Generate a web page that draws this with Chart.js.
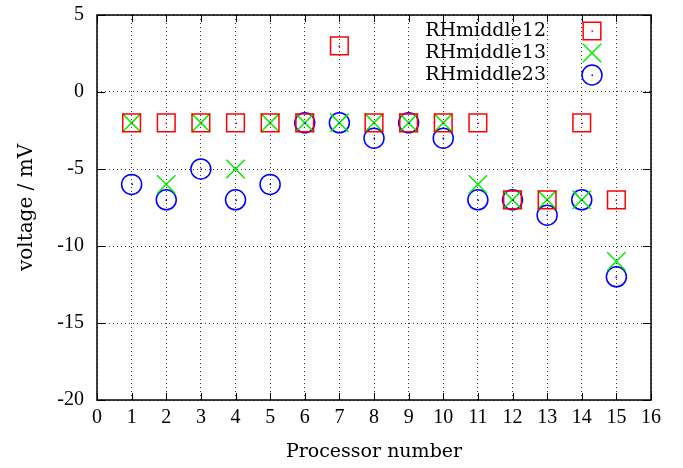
<!DOCTYPE html>
<html lang="en">
<head>
    <meta charset="UTF-8">
    <title>RHmiddle voltages</title>
    <script src="https://cdn.jsdelivr.net/npm/chart.js@4.4.0/dist/chart.umd.min.js"></script>
    <style>
        body { margin: 0; padding: 0; background: #fff; }
        .wrap { width: 683px; height: 468px; }
    </style>
</head>
<body>
    <div class="wrap"><canvas id="chart"></canvas></div>

    <script>
        // Data
        const processors = [1, 2, 3, 4, 5, 6, 7, 8, 9, 10, 11, 12, 13, 14, 15];
        const rh12 = [-2, -2, -2, -2, -2, -2, 3, -2, -2, -2, -2, -7, -7, -2, -7];
        const rh13 = [-2, -6, -2, -5, -2, -2, -2, -2, -2, -2, -6, -7, -7, -7, -11];
        const rh23 = [-6, -7, -5, -7, -6, -2, -2, -3, -2, -3, -7, -7, -8, -7, -12];
        const seriesNames = ['RHmiddle12', 'RHmiddle13', 'RHmiddle23'];
        const xTicks = [0, 1, 2, 3, 4, 5, 6, 7, 8, 9, 10, 11, 12, 13, 14, 15, 16];
        const yTicks = [5, 0, -5, -10, -15, -20];

        const TICK_FONT = 'Liberation Serif';
        const TEXT_FONT = 'DejaVu Serif';

        function points(ys) {
            return processors.map((x, i) => ({ x: x, y: ys[i] }));
        }

        // frame, inner ticks, centre dots and the legend, gnuplot style
        const gnuplotBits = {
            id: 'gnuplotBits',
            afterDatasetsDraw(chart) {
                const ctx = chart.ctx;
                const a = chart.chartArea;
                const xs = chart.scales.x, ys = chart.scales.y;
                ctx.save();
                ctx.strokeStyle = '#000';
                ctx.lineWidth = 1;
                ctx.beginPath();
                xTicks.forEach(v => {
                    const px = Math.round(xs.getPixelForValue(v)) + 0.5;
                    ctx.moveTo(px, a.bottom); ctx.lineTo(px, a.bottom - 7);
                    ctx.moveTo(px, a.top); ctx.lineTo(px, a.top + 7);
                });
                yTicks.forEach(v => {
                    const py = Math.round(ys.getPixelForValue(v)) + 0.5;
                    ctx.moveTo(a.left, py); ctx.lineTo(a.left + 8, py);
                    ctx.moveTo(a.right, py); ctx.lineTo(a.right - 8, py);
                });
                ctx.stroke();
                ctx.lineWidth = 1.5;
                ctx.strokeRect(a.left, a.top, a.right - a.left, a.bottom - a.top);

                // small dots in the middle of the points
                chart.data.datasets.forEach((ds, i) => {
                    if (ds.pointStyle === 'crossRot') return;
                    ctx.fillStyle = ds.borderColor;
                    chart.getDatasetMeta(i).data.forEach(el => {
                        ctx.fillRect(Math.round(el.x) - 0.5, Math.round(el.y) - 0.5, 1.5, 1.5);
                    });
                });

                // legend, text right-aligned with the symbol after it
                ctx.font = '19px "' + TEXT_FONT + '"';
                ctx.textAlign = 'right';
                ctx.textBaseline = 'middle';
                chart.data.datasets.forEach((ds, i) => {
                    const y = a.top + 16 + i * 22;
                    ctx.fillStyle = '#000';
                    ctx.fillText(ds.label, 546, y);
                    ctx.strokeStyle = ds.borderColor;
                    ctx.fillStyle = 'rgba(0,0,0,0)';
                    ctx.lineWidth = ds.borderWidth;
                    Chart.helpers.drawPoint(ctx, {
                        pointStyle: ds.pointStyle,
                        radius: ds.pointRadius,
                        borderWidth: ds.borderWidth
                    }, 592, y);
                    if (ds.pointStyle !== 'crossRot') {
                        ctx.fillStyle = ds.borderColor;
                        ctx.fillRect(591.5, y - 0.5, 1.5, 1.5);
                    }
                });
                ctx.restore();
            }
        };

        new Chart(document.getElementById('chart'), {
            type: 'scatter',
            data: {
                datasets: [
                    {
                        label: seriesNames[0],
                        data: points(rh12),
                        pointStyle: 'rect',
                        pointRadius: 12.5,
                        borderColor: '#ff0000',
                        backgroundColor: 'rgba(0,0,0,0)',
                        borderWidth: 1.5
                    },
                    {
                        label: seriesNames[1],
                        data: points(rh13),
                        pointStyle: 'crossRot',
                        pointRadius: 13,
                        borderColor: '#00ee00',
                        backgroundColor: 'rgba(0,0,0,0)',
                        borderWidth: 1.5
                    },
                    {
                        label: seriesNames[2],
                        data: points(rh23),
                        pointStyle: 'circle',
                        pointRadius: 10,
                        borderColor: '#0000ff',
                        backgroundColor: 'rgba(0,0,0,0)',
                        borderWidth: 1.5
                    }
                ]
            },
            options: {
                responsive: true,
                maintainAspectRatio: false,
                animation: false,
                layout: { padding: { top: 15, right: 32, left: 0, bottom: 0 } },
                plugins: {
                    legend: { display: false },
                    tooltip: { enabled: false }
                },
                scales: {
                    x: {
                        type: 'linear',
                        min: 0,
                        max: 16,
                        afterBuildTicks: s => { s.ticks = xTicks.map(v => ({ value: v })); },
                        afterFit: s => { s.height = 68; s.paddingLeft = 0; s.paddingRight = 0; },
                        ticks: {
                            color: '#000',
                            padding: 6,
                            font: { family: TICK_FONT, size: 20 }
                        },
                        grid: {
                            color: 'rgba(0,0,0,0.8)',
                            drawTicks: false
                        },
                        border: { display: false, dash: [1, 3] },
                        title: {
                            display: true,
                            text: 'Processor number',
                            color: '#000',
                            padding: { top: 0, bottom: 5 },
                            font: { family: TEXT_FONT, size: 19 }
                        }
                    },
                    y: {
                        min: -20,
                        max: 5,
                        afterBuildTicks: s => { s.ticks = yTicks.map(v => ({ value: v })); },
                        afterFit: s => { s.width = 97; s.paddingTop = 0; s.paddingBottom = 0; },
                        ticks: {
                            color: '#000',
                            padding: 13,
                            font: { family: TICK_FONT, size: 20 }
                        },
                        grid: {
                            color: 'rgba(0,0,0,0.8)',
                            drawTicks: false
                        },
                        border: { display: false, dash: [1, 3] },
                        title: {
                            display: true,
                            text: 'voltage / mV',
                            color: '#000',
                            padding: { top: 15, bottom: 0 },
                            font: { family: TEXT_FONT, size: 20 }
                        }
                    }
                }
            },
            plugins: [gnuplotBits]
        });
    </script>
</body>
</html>
